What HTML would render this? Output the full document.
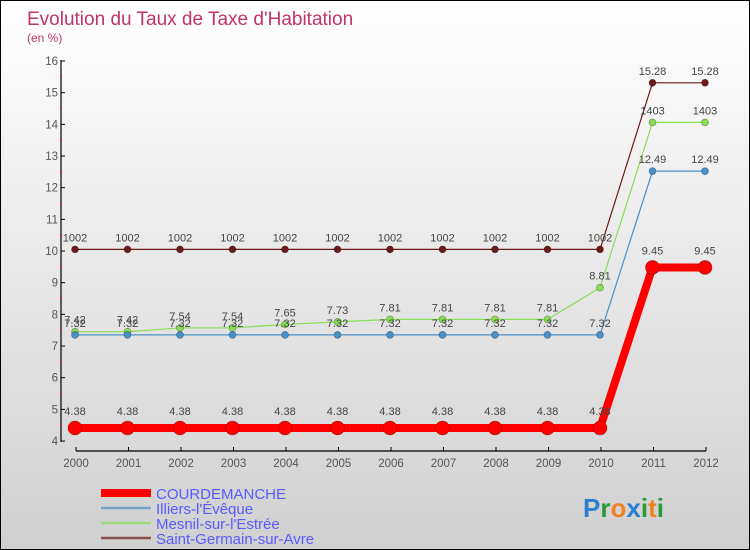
<!DOCTYPE html>
<html><head><meta charset="utf-8"><style>
body{margin:0}
#c{width:748px;height:548px;border:1px solid #000;background:linear-gradient(#fff,#d0d0d0);position:relative;font-family:"Liberation Sans",sans-serif;overflow:hidden}
</style></head><body>
<div id="c">
<svg id="s" width="748" height="548" xmlns="http://www.w3.org/2000/svg"></svg>
</div>
<script>
const years=[2000,2001,2002,2003,2004,2005,2006,2007,2008,2009,2010,2011,2012];
const courdemanche=[4.38,4.38,4.38,4.38,4.38,4.38,4.38,4.38,4.38,4.38,4.38,9.45,9.45];
const illiers=[7.32,7.32,7.32,7.32,7.32,7.32,7.32,7.32,7.32,7.32,7.32,12.49,12.49];
const mesnil=[7.42,7.42,7.54,7.54,7.65,7.73,7.81,7.81,7.81,7.81,8.81,14.03,14.03];
const saintGermain=[10.02,10.02,10.02,10.02,10.02,10.02,10.02,10.02,10.02,10.02,10.02,15.28,15.28];
const yTicks=[4,5,6,7,8,9,10,11,12,13,14,15,16];
const series=[
 {name:'Saint-Germain-sur-Avre',d:saintGermain,c:'#6b1a1a',w:1.2,r:3.5,k:'saint-germain'},
 {name:'Mesnil-sur-l\'Estrée',d:mesnil,c:'#88dd55',w:1.2,r:3.5,k:'mesnil'},
 {name:'Illiers-l\'Évêque',d:illiers,c:'#4a90c8',w:1.2,r:3.5,k:'illiers'},
 {name:'COURDEMANCHE',d:courdemanche,c:'#ff0000',w:8,r:7,k:'courdemanche'}
];
const NS='http://www.w3.org/2000/svg';
const s=document.getElementById('s');
const X=i=>74+i*52.5, Y=v=>59+(16-v)*31.67;
function el(t,a,p){const e=document.createElementNS(NS,t);for(const k in a)e.setAttribute(k,a[k]);(p||s).appendChild(e);return e;}
function tx(x,y,str,a,p){const e=el('text',Object.assign({x:x,y:y,'font-size':12,fill:'#555'},a||{}),p);e.textContent=str;return e;}
let t=tx(26,24,'Evolution du Taux de Taxe d\'Habitation',{'font-size':19,fill:'#c0336b'});

t=tx(26,41,'(en %)',{'font-size':12,fill:'#c0336b'});

let a=el('line',{x1:60,y1:59,x2:60,y2:441,stroke:'#000','stroke-width':1.2});

yTicks.forEach(v=>{const y=Y(v)+1;el('line',{x1:60,y1:y,x2:64,y2:y,stroke:'#000'});
 if(v<16)el('line',{x1:59,y1:Y(v+0.5)+1,x2:61,y2:Y(v+0.5)+1,stroke:'#f00'});
 const l=tx(57,y+4,String(v),{'text-anchor':'end','font-size':11.5});
 });
a=el('line',{x1:75,y1:450,x2:705,y2:450,stroke:'#000','stroke-width':1.2});

years.forEach((yr,i)=>{el('line',{x1:X(i)+1,y1:446,x2:X(i)+1,y2:450,stroke:'#000'});
 const l=tx(X(i)+1,466,String(yr),{'text-anchor':'middle','font-size':11.5});
 });
series.forEach(se=>{
 const g=el('g',{});
 el('polyline',{points:se.d.map((v,i)=>X(i)+','+Y(v)).join(' '),fill:'none',stroke:se.c,'stroke-width':se.w},g);
 se.d.forEach((v,i)=>{const p=el('circle',{cx:X(i),cy:Y(v),r:se.r,fill:se.c,stroke:'rgba(0,0,0,0.4)','stroke-width':0.6},g);
  
  const str=v.toFixed(2).replace('.0','0');
  const l=tx(X(i),Y(v)-(se.k==='courdemanche'?13:8),str,{'text-anchor':'middle','font-size':11,fill:'#444'},g);
  });
});
const leg=[series[3],series[2],series[1],series[0]];
leg.forEach((se,i)=>{const y=492+i*15;const g=el('g',{});
 
 el('line',{x1:100,y1:y,x2:150,y2:y,stroke:se.c,'stroke-width':i==0?8:2.5,opacity:i==0?1:0.7},g);
 tx(155,y+6,se.name,{'font-size':15,fill:'#5a5aff'},g);});
const p=el('text',{x:582,y:516,'font-size':26,'font-weight':'bold',fill:'#2a7fd0'});

[['P','#2a7fd0'],['r','#2a9a3a'],['o','#f08020'],['x','#2a7fd0'],['i','#2a9a3a'],['t','#f08020'],['i','#2a9a3a']].forEach(c=>{const ts=el('tspan',{fill:c[1]},p);ts.textContent=c[0];});
</script>
</body></html>
